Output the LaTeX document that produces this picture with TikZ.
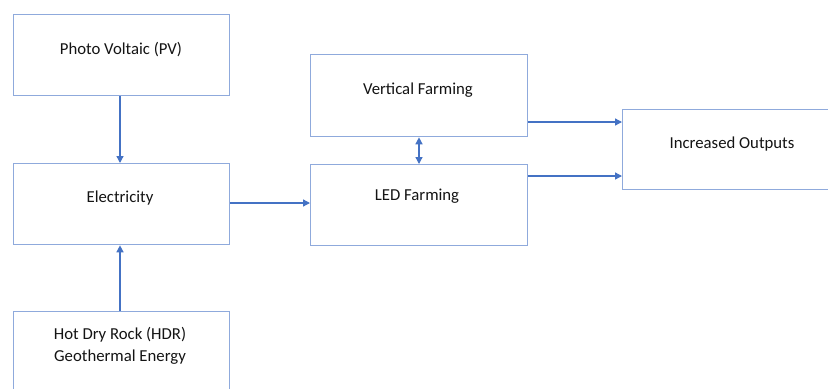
\documentclass[tikz,border=0pt]{standalone}
\usepackage{fontspec}
\setmainfont{Carlito}
\usetikzlibrary{arrows.meta}
\definecolor{boxline}{RGB}{143,170,220}
\definecolor{arrowline}{RGB}{68,114,196}
\definecolor{txt}{RGB}{20,20,20}
\begin{document}
\begin{tikzpicture}[x=1bp,y=-1bp,
  blockbox/.style={draw=boxline,line width=1.3bp,fill=white,rectangle,inner sep=0pt,
    minimum width=#1,minimum height=81bp,anchor=north west},
  blockbox/.default=216bp,
  lbl/.style={font=\fontsize{16.8}{22}\selectfont,text=txt,align=center},
  flow/.style={draw=arrowline,line width=1.3bp,-{Triangle[length=7bp,width=7bp]}},
  twoway/.style={draw=arrowline,line width=1.3bp,{Triangle[length=7bp,width=7bp]}-{Triangle[length=7bp,width=7bp]}}]
\useasboundingbox (0,0) rectangle (828,388);
\clip (0,0) rectangle (828,388);
\fill[white] (0,0) rectangle (828,388);

% source blocks
\node[blockbox] (pv) at (13,14) {};
\node[lbl] (pvt) at (121,49.5) {Photo Voltaic (PV)};
\node[blockbox] (elec) at (13,163) {};
\node[lbl] (elect) at (120,198.5) {Electricity};
\node[blockbox,minimum height=90bp] (hdr) at (13,311) {};
\node[lbl] (hdrt) at (120,346) {Hot Dry Rock (HDR)\\Geothermal Energy};

% farming blocks
\node[blockbox,minimum width=217bp,minimum height=82bp] (vert) at (310,54) {};
\node[lbl] (vertt) at (418,90.5) {Vertical Farming};
\node[blockbox,minimum width=217bp] (led) at (310,164) {};
\node[lbl] (ledt) at (417,196.5) {LED Farming};

% result block
\node[blockbox,minimum width=230bp,minimum height=80bp] (out) at (622,109) {};
\node[lbl] (outt) at (732,144.5) {Increased Outputs};

% connectors
\draw[flow] (pv.south -| 120,0) -- (elec.north -| 120,0);
\draw[flow] (hdr.north -| 120,0) -- (elec.south -| 120,0);
\draw[flow] (elec.east |- 0,203) -- (led.west |- 0,203);
\draw[twoway] (vert.south -| 419,0) -- (led.north -| 419,0);
\draw[flow] (vert.east |- 0,122) -- (out.west |- 0,122);
\draw[flow] (led.east |- 0,176) -- (out.west |- 0,176);
\end{tikzpicture}
\end{document}
